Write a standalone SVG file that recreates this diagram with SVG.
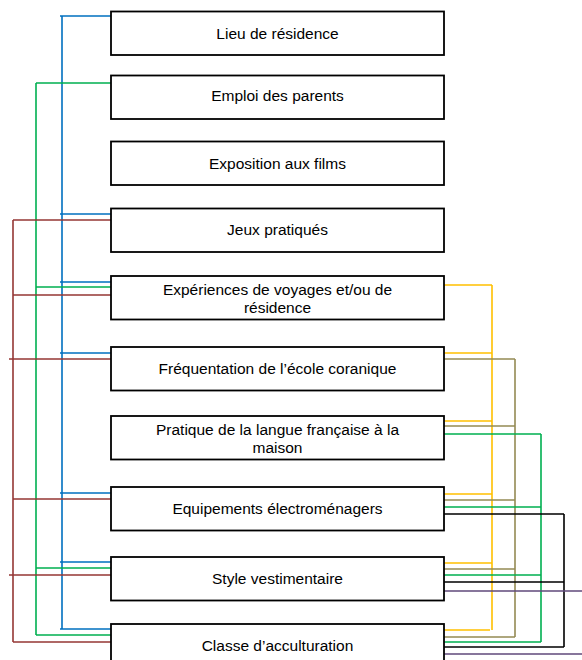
<svg xmlns="http://www.w3.org/2000/svg" width="582" height="660" viewBox="0 0 582 660">
<style>
.box rect{fill:#fff;stroke:#000;stroke-width:1.8}
.box text{font-family:"Liberation Sans",Arial,sans-serif;font-size:15.5px;fill:#000;text-anchor:middle}
.c path{fill:none;stroke-width:1.6}
.blue{stroke:#0070C0}
.green{stroke:#00B050}
.brown{stroke:#953735}
.yellow{stroke:#FFC000}
.olive{stroke:#948A54}
.black{stroke:#000}
.purple{stroke:#604A7B}
</style>
<rect width="582" height="660" fill="#fff"/>
<g id="connectors" class="c">
<path class="blue" d="M62 16V629 M60 16H111 M60 214H111 M60 282H111 M60 353H111 M60 493H111 M60 562H111 M60 629H111"/>
<path class="green" d="M36 83V635 M36 83H111 M36 287H111 M36 568H111 M36 635H111"/>
<path class="brown" d="M13 220V642 M13 220H111 M13 295H111 M9 359H111 M13 499H111 M9 575H111 M13 642H111"/>
<path class="yellow" d="M492 285V630 M444 285H492 M444 353H492 M444 421H492 M444 494H492 M444 563H492 M444 630H490"/>
<path class="olive" d="M515 359V637 M444 359H515 M444 426H515 M444 500H515 M444 569H515 M444 637H515"/>
<path class="green" d="M541 434V642 M444 434H541 M444 507H541 M444 575H541 M444 642H541"/>
<path class="black" d="M564 514V647 M444 514H564 M444 582H564 M444 647H564"/>
<path class="purple" d="M444 591H582 M444 654H582"/>
</g>
<g id="n1" class="box"><rect x="111" y="11.5" width="333" height="43.5"/><text x="277.5" y="39">Lieu de résidence</text></g>
<g id="n2" class="box"><rect x="111" y="75.5" width="333" height="43.5"/><text x="277.5" y="101">Emploi des parents</text></g>
<g id="n3" class="box"><rect x="111" y="141.5" width="333" height="43.5"/><text x="277.5" y="169">Exposition aux films</text></g>
<g id="n4" class="box"><rect x="111" y="208.5" width="333" height="43.5"/><text x="277.5" y="235">Jeux pratiqués</text></g>
<g id="n5" class="box"><rect x="111" y="276" width="333" height="43.5"/><text x="277.5" y="295">Expériences de voyages et/ou de</text><text x="277.5" y="313">résidence</text></g>
<g id="n6" class="box"><rect x="111" y="347" width="333" height="43.5"/><text x="277.5" y="374">Fréquentation de l’école coranique</text></g>
<g id="n7" class="box"><rect x="111" y="416" width="333" height="43.5"/><text x="277.5" y="435">Pratique de la langue française à la</text><text x="277.5" y="453">maison</text></g>
<g id="n8" class="box"><rect x="111" y="487" width="333" height="43.5"/><text x="277.5" y="514">Equipements électroménagers</text></g>
<g id="n9" class="box"><rect x="111" y="557" width="333" height="43.5"/><text x="277.5" y="583.5">Style vestimentaire</text></g>
<g id="n10" class="box"><rect x="111" y="624" width="333" height="43.5"/><text x="277.5" y="651">Classe d’acculturation</text></g>
</svg>
